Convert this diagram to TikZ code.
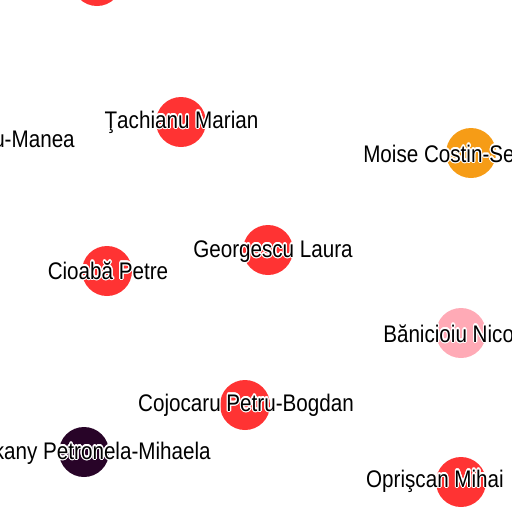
\documentclass[tikz,border=0pt]{standalone}
\usepackage{fontspec}
\setmainfont{Liberation Sans}[FakeStretch=0.86]
\usepackage{contour}
\contourlength{0.9pt}
\usetikzlibrary{positioning}

\definecolor{nodered}{RGB}{255,51,51}
\definecolor{nodeorange}{RGB}{246,156,22}
\definecolor{nodepink}{RGB}{255,170,182}
\definecolor{nodedark}{RGB}{40,4,40}

\begin{document}
\begin{tikzpicture}[
        x=0.75pt, y=-0.75pt,
        person/.style={circle, fill=#1, draw=none, minimum size=37.5pt, inner sep=0pt},
        nametext/.style={anchor=base, inner sep=0pt, font=\fontsize{18}{20}\selectfont}
    ]
        \useasboundingbox (0,0) rectangle (512,512);
        \clip (0,0) rectangle (512,512);

        % People
        \node[person=nodered] (top) at (97,-19) {};
        \node[person=nodered] (tachianu) at (181,122) {};
        \node[person=nodeorange] (moise) at (471,153) {};
        \node[person=nodered] (georgescu) at (268,250) {};
        \node[person=nodered] (cioaba) at (107,271) {};
        \node[person=nodepink] (banicioiu) at (461,333) {};
        \node[person=nodered] (cojocaru) at (245,405) {};
        \node[person=nodedark] (kany) at (84,452) {};
        \node[person=nodered] (oprisan) at (461,482) {};

        % Names
        \node[nametext] (tachianu-t) at (181.5,128) {\contour{white}{Ţachianu Marian}};
        \node[nametext, anchor=base east] (manea-t) at (75,147) {\contour{white}{u-Manea}};
        \node[nametext, anchor=base west] (moise-t) at (363,162) {\contour{white}{Moise Costin-Se}};
        \node[nametext] (georgescu-t) at (273,257) {\contour{white}{Georgescu Laura}};
        \node[nametext] (cioaba-t) at (108,279) {\contour{white}{Cioabă Petre}};
        \node[nametext, anchor=base west] (banicioiu-t) at (383,342) {\contour{white}{Bănicioiu Nico}};
        \node[nametext] (cojocaru-t) at (246,411) {\contour{white}{Cojocaru Petru-Bogdan}};
        \node[nametext, anchor=base east] (kany-t) at (211,459) {\contour{white}{kany Petronela-Mihaela}};
        \node[nametext] (oprisan-t) at (435,487) {\contour{white}{Oprişcan Mihai}};
    \end{tikzpicture}
\end{document}
